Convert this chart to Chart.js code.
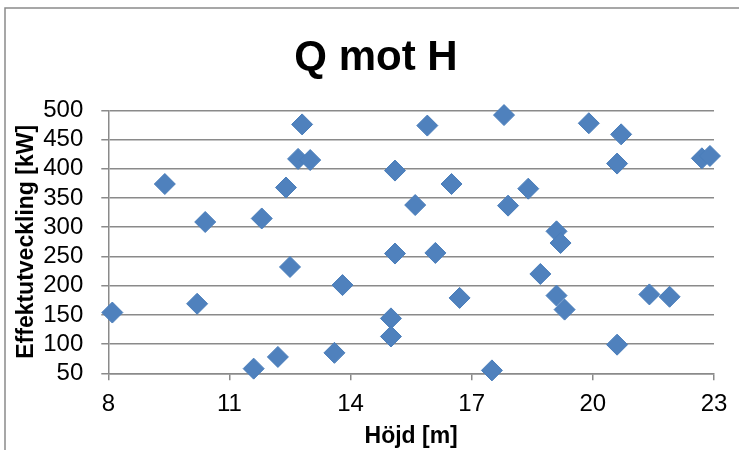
<!DOCTYPE html>
<html>
<head>
<meta charset="utf-8">
<title>Q mot H</title>
<script src="https://cdn.jsdelivr.net/npm/chart.js@4/dist/chart.umd.min.js"></script>
<style>
  html, body { margin: 0; padding: 0; background: #ffffff; }
  #wrap { width: 739px; height: 450px; position: relative; }
</style>
</head>
<body>
<div id="wrap"><canvas id="chart" width="739" height="450"></canvas></div>
<script>
// Pump measurements: head (m) against power output (kW)
const hojd = [8.1, 9.4, 10.2, 10.4, 11.6, 11.8, 12.2, 12.4, 12.5, 12.7,
              12.8, 13.0, 13.6, 13.8, 15.0, 15.0, 15.1, 15.1, 15.6, 15.9,
              16.1, 16.5, 16.7, 17.5, 17.8, 17.9, 18.4, 18.7, 19.1, 19.1,
              19.2, 19.3, 19.9, 20.6, 20.6, 20.7, 21.4, 21.9, 22.7, 22.9];
const effekt = [154, 374, 169, 309, 58, 315, 78, 368, 232, 417,
                476, 415, 85, 201, 144, 113, 397, 255, 338, 474,
                256, 374, 179, 55, 492, 337, 366, 220, 293, 183,
                273, 159, 478, 409, 99, 459, 185, 181, 418, 422];

const xTicks = [8, 11, 14, 17, 20, 23];
const yTicks = [50, 100, 150, 200, 250, 300, 350, 400, 450, 500];

const points = hojd.map((h, i) => ({ x: h, y: effekt[i] }));

const FONT = "'Liberation Sans', Arial, sans-serif";
const GRID = '#8a8a8a';
const LEFT_PAD = 38;

// Thin grey frame around the whole chart
const frame = {
  id: 'frame',
  beforeDraw(chart) {
    const ctx = chart.ctx;
    ctx.save();
    ctx.fillStyle = '#ffffff';
    ctx.fillRect(0, 0, chart.width, chart.height);
    ctx.strokeStyle = GRID;
    ctx.lineWidth = 1.5;
    ctx.strokeRect(5, 8, chart.width + 20, chart.height + 20);
    ctx.restore();
  }
};

new Chart(document.getElementById('chart'), {
  type: 'scatter',
  data: {
    datasets: [{
      label: 'Effektutveckling',
      data: points,
      clip: false,
      pointStyle: 'rectRot',
      pointRadius: 10.5,
      pointHoverRadius: 10.5,
      backgroundColor: '#4F81BD',
      borderColor: '#4A7EBB',
      borderWidth: 1
    }]
  },
  options: {
    responsive: false,
    animation: false,
    devicePixelRatio: 1,
    layout: { padding: { left: LEFT_PAD, right: 25, top: 0, bottom: 0 } },
    plugins: {
      legend: { display: false },
      tooltip: { enabled: false },
      title: {
        display: true,
        text: 'Q mot H',
        color: '#000000',
        font: { family: FONT, size: 42, weight: 'bold', lineHeight: 1.2 },
        padding: { top: 33, bottom: 27 }
      }
    },
    scales: {
      x: {
        type: 'linear',
        min: 8,
        max: 23,
        afterBuildTicks(scale) { scale.ticks = xTicks.map(v => ({ value: v })); },
        afterFit(scale) { scale.height = 76.7; },
        ticks: {
          color: '#000000',
          font: { family: FONT, size: 24 },
          padding: 10,
          maxRotation: 0,
          autoSkip: false
        },
        grid: {
          display: true,
          drawOnChartArea: false,
          drawTicks: true,
          tickLength: 7,
          color: GRID,
          lineWidth: 1.5
        },
        border: { display: true, color: GRID, width: 1.5 },
        title: {
          display: true,
          text: 'Höjd [m]',
          color: '#000000',
          font: { family: FONT, size: 23, weight: 'bold', lineHeight: 1.2 },
          padding: { top: 0, bottom: 0 }
        }
      },
      y: {
        type: 'linear',
        min: 50,
        max: 500,
        afterBuildTicks(scale) { scale.ticks = yTicks.map(v => ({ value: v })); },
        afterFit(scale) { scale.width = 108.3 - LEFT_PAD; },
        ticks: {
          color: '#000000',
          font: { family: FONT, size: 24 },
          padding: 18,
          autoSkip: false
        },
        grid: {
          display: true,
          drawOnChartArea: true,
          drawTicks: true,
          tickLength: 7,
          color: GRID,
          lineWidth: 1.5
        },
        border: { display: true, color: GRID, width: 1.5 },
        title: {
          display: true,
          text: 'Effektutveckling [kW]',
          color: '#000000',
          font: { family: FONT, size: 23, weight: 'bold', lineHeight: 1.2 },
          padding: { top: 13 - LEFT_PAD, bottom: 0 }
        }
      }
    }
  },
  plugins: [frame]
});
</script>
</body>
</html>
